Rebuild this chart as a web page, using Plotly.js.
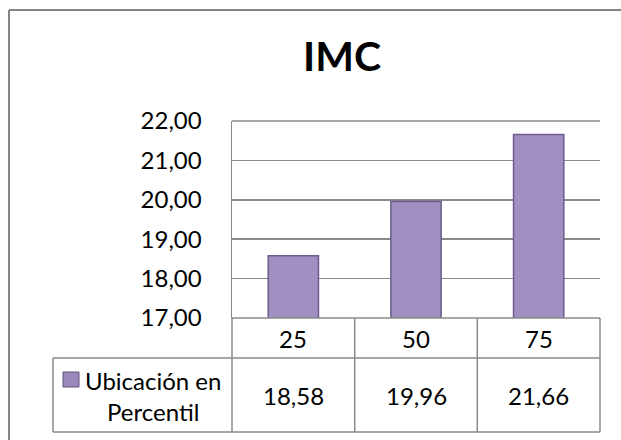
<!DOCTYPE html>
<html>
<head>
<meta charset="utf-8">
<script src="https://cdn.plot.ly/plotly-3.0.1.min.js"></script>
<style>html,body{margin:0;padding:0;background:#fff;overflow:hidden;width:621px;height:440px;}#chart{width:621px;height:440px;overflow:hidden;}</style>
</head>
<body>
<div id="chart"></div>
<script>
const categories = ['25', '50', '75'];
const seriesName = 'Ubicación en<br>Percentil';
const values = [18.58, 19.96, 21.66];
const titleText = 'IMC';

const W = 621, H = 440;
const L = 232, R = 600, T = 121, B = 318;
const X = px => (px - L) / (R - L);
const Y = py => (B - py) / (B - T);
const lineCol = '#8a8a8a';
const font = 'Lato, "Open Sans", sans-serif';

const shapes = [];
function seg(x0, y0, x1, y1, col, w) {
  shapes.push({type: 'line', xref: 'paper', yref: 'paper', x0: X(x0), y0: Y(y0), x1: X(x1), y1: Y(y1),
    line: {color: col || lineCol, width: w || 1.5}, layer: 'above'});
}
// outer chart border (right and bottom edges fall outside the picture)
seg(9, 10, 621, 10, '#858585', 2);
seg(9, 10, 9, 440, '#858585', 2);
// top gridline of plot area
seg(232, 121, 600, 121);
// data table grid
const colEdges = [232, 354.7, 477.3, 600];
seg(232, 318, 600, 318);
seg(53, 358, 600, 358);
seg(53, 432, 600, 432);
seg(53, 358, 53, 432);
colEdges.forEach(x => seg(x, 318, x, 432));
// legend key
shapes.push({type: 'rect', xref: 'paper', yref: 'paper', x0: X(63), y0: Y(372), x1: X(79), y1: Y(387),
  line: {color: '#5f5278', width: 1}, fillcolor: '#9a88ba', layer: 'above'});

const annotations = [];
categories.forEach((c, i) => {
  const cx = (colEdges[i] + colEdges[i + 1]) / 2;
  annotations.push({xref: 'paper', yref: 'paper', x: X(cx), y: Y(338), text: c, showarrow: false,
    xanchor: 'center', yanchor: 'middle', font: {family: font, size: 24, color: '#000'}});
  annotations.push({xref: 'paper', yref: 'paper', x: X(cx), y: Y(395), text: values[i].toFixed(2).replace('.', ','),
    showarrow: false, xanchor: 'center', yanchor: 'middle', font: {family: font, size: 24, color: '#000'}});
});
annotations.push({xref: 'paper', yref: 'paper', x: X(153), y: Y(396), text: seriesName, showarrow: false,
  xanchor: 'center', yanchor: 'middle', align: 'center', font: {family: font, size: 24, color: '#000'}});

const trace = {
  type: 'bar', x: categories, y: values, name: seriesName,
  marker: {color: '#a08fc1', line: {color: '#6c5e8c', width: 1.5}},
  hoverinfo: 'skip'
};

const layout = {
  width: W, height: H,
  margin: {l: L, r: W - R, t: T, b: H - B, pad: 0},
  paper_bgcolor: '#fff', plot_bgcolor: '#fff',
  separators: ',.',
  showlegend: false,
  bargap: 0.59,
  title: {text: '<b>' + titleText + '</b>', x: 342 / W, xanchor: 'center', y: 1 - 57 / H, yanchor: 'middle',
    font: {family: font, size: 41, color: '#000'}},
  xaxis: {type: 'category', showticklabels: false, showgrid: false, zeroline: false, showline: false, ticks: ''},
  yaxis: {range: [17, 22], dtick: 1, tick0: 17, tickformat: '.2f', showgrid: true, gridcolor: lineCol, gridwidth: 1.5,
    zeroline: false, showline: true, linecolor: lineCol, linewidth: 1.5, ticks: '', ticklabelstandoff: 24,
    tickfont: {family: font, size: 24, color: '#000'}},
  shapes: shapes,
  annotations: annotations
};

Plotly.newPlot('chart', [trace], layout, {displayModeBar: false, staticPlot: true});
</script>
</body>
</html>
